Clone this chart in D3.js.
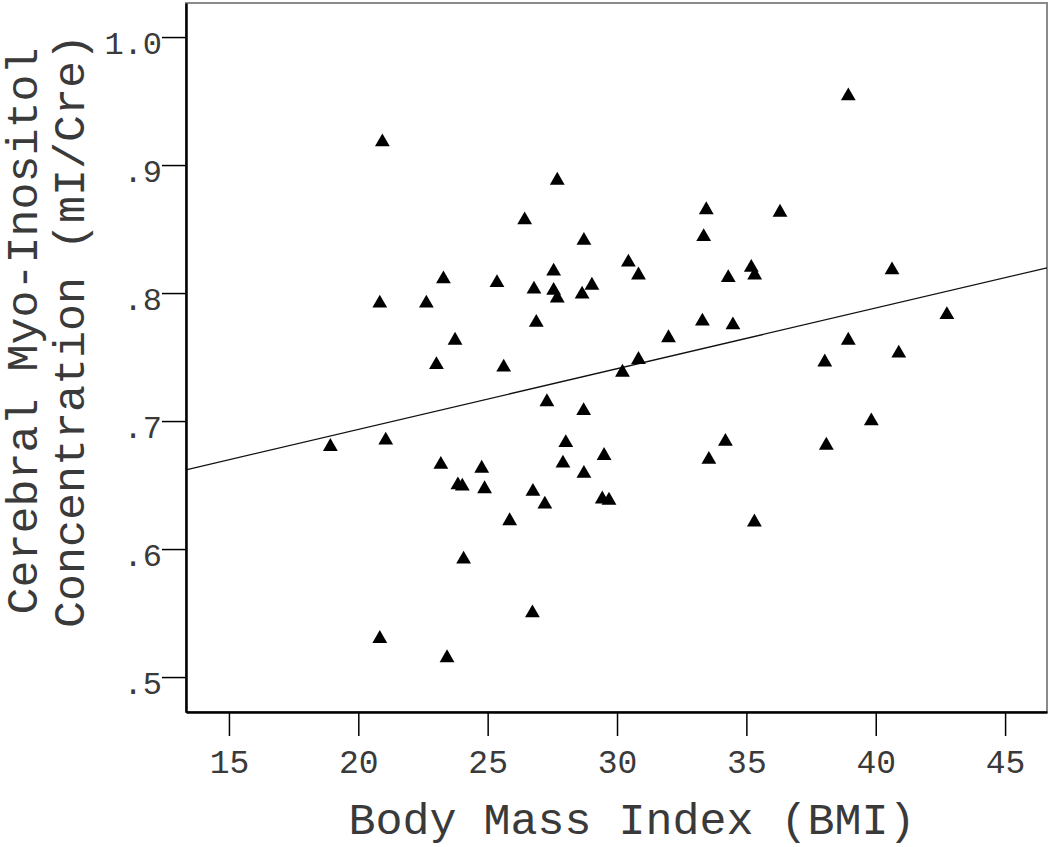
<!DOCTYPE html>
<html>
<head>
<meta charset="utf-8">
<script src="https://cdn.jsdelivr.net/npm/d3@7"></script>
<style>
  body { margin: 0; background: #fff; }
  .tick-label { font-family: "Liberation Mono", "Courier New", monospace; fill: #3a3a3a; }
  .axis-title { font-family: "Liberation Mono", "Courier New", monospace; fill: #3a3a3a; }
</style>
</head>
<body>
<div id="wrapper"></div>
<script>
// BMI of each subject
const bmi = [
  20.93, 27.69, 26.43, 28.72, 27.55, 23.29, 25.36, 26.79, 27.55, 27.69,
  29.03, 28.65, 20.83, 22.63, 26.88, 23.74, 23.02, 25.62, 27.29, 28.71,
  18.92, 21.06, 28.02, 29.50, 23.19, 24.77, 27.91, 28.72, 23.85, 24.02,
  24.88, 26.75, 27.21, 29.43, 29.69, 25.85, 24.07, 26.73, 20.83, 23.43,
  38.94, 33.45, 36.30, 33.35, 30.44, 30.83, 34.30, 35.19, 35.32, 40.63,
  33.30, 34.48, 31.99, 42.75, 38.94, 40.89, 30.83, 30.21, 38.03, 39.83,
  34.19, 38.09, 33.55, 35.31
]
// mI/Cre ratio of each subject
const miCre = [
  0.918, 0.888, 0.857, 0.841, 0.817, 0.811, 0.808, 0.803, 0.802, 0.796,
  0.806, 0.799, 0.792, 0.792, 0.777, 0.763, 0.744, 0.742, 0.715, 0.708,
  0.680, 0.685, 0.683, 0.673, 0.666, 0.663, 0.667, 0.659, 0.650, 0.649,
  0.647, 0.645, 0.635, 0.639, 0.638, 0.622, 0.592, 0.550, 0.530, 0.515,
  0.954, 0.865, 0.863, 0.844, 0.824, 0.814, 0.812, 0.820, 0.814, 0.818,
  0.778, 0.775, 0.765, 0.783, 0.763, 0.753, 0.748, 0.738, 0.746, 0.700,
  0.684, 0.681, 0.670, 0.621
]
// linear fit: intercept, slope
const fitCoef = [0.5987, 0.00474]

const xTicks = [15, 20, 25, 30, 35, 40, 45]
const yTicks = [0.5, 0.6, 0.7, 0.8, 0.9, 1.0]
const yTickLabels = [".5", ".6", ".7", ".8", ".9", "1.0"]

const xTitle = "Body Mass Index (BMI)"
const yTitleLines = ["Cerebral Myo-Inositol", "Concentration (mI/Cre)"]

let dimensions = {
  width: 1050,
  height: 847,
  margin: { top: 3, right: 3, bottom: 135, left: 186 },
}
dimensions.boundedWidth = dimensions.width - dimensions.margin.left - dimensions.margin.right
dimensions.boundedHeight = dimensions.height - dimensions.margin.top - dimensions.margin.bottom

const xScale = d3.scaleLinear()
  .domain([13.34, 46.62])
  .range([0, dimensions.boundedWidth])

const yScale = d3.scaleLinear()
  .domain([0.4727, 1.0266])
  .range([dimensions.boundedHeight, 0])

const wrapper = d3.select("#wrapper")
  .append("svg")
  .attr("width", dimensions.width)
  .attr("height", dimensions.height)

const bounds = wrapper.append("g")
  .attr("transform", `translate(${dimensions.margin.left},${dimensions.margin.top})`)

// frame (top/right lighter)
bounds.append("rect")
  .attr("width", dimensions.boundedWidth)
  .attr("height", dimensions.boundedHeight)
  .attr("fill", "none")
  .attr("stroke", "#8a8a8a")
  .attr("stroke-width", 2)

// fit line
const [x0, x1] = xScale.domain()
bounds.append("line")
  .attr("x1", xScale(x0))
  .attr("y1", yScale(fitCoef[0] + fitCoef[1] * x0))
  .attr("x2", xScale(x1))
  .attr("y2", yScale(fitCoef[0] + fitCoef[1] * x1))
  .attr("stroke", "#111")
  .attr("stroke-width", 1.3)

// points
const triangle = d3.symbol().type(d3.symbolTriangle).size(95)
bounds.selectAll(".pt")
  .data(d3.range(bmi.length))
  .enter().append("path")
  .attr("class", "pt")
  .attr("d", triangle)
  .attr("transform", i => `translate(${xScale(bmi[i])},${yScale(miCre[i])})`)
  .attr("fill", "#000")

// axes
const xAxis = d3.axisBottom(xScale)
  .tickValues(xTicks)
  .tickSize(24)
  .tickPadding(14)
  .tickSizeOuter(0)
const xAxisGroup = bounds.append("g")
  .attr("transform", `translate(0,${dimensions.boundedHeight})`)
  .call(xAxis)
xAxisGroup.select(".domain").attr("stroke", "#000").attr("stroke-width", 2.5)
xAxisGroup.selectAll(".tick line").attr("stroke", "#000").attr("stroke-width", 1.5)
xAxisGroup.selectAll(".tick text")
  .attr("class", "tick-label")
  .style("font-size", "33px")

const yAxis = d3.axisLeft(yScale)
  .tickValues(yTicks)
  .tickFormat((d, i) => yTickLabels[i])
  .tickSize(24)
  .tickPadding(0)
  .tickSizeOuter(0)
const yAxisGroup = bounds.append("g").call(yAxis)
yAxisGroup.select(".domain").attr("stroke", "#000").attr("stroke-width", 2.5)
yAxisGroup.selectAll(".tick line").attr("stroke", "#000").attr("stroke-width", 1.5)
yAxisGroup.selectAll(".tick text")
  .attr("class", "tick-label")
  .attr("dy", "0.5em")
  .style("font-size", "32px")

// titles
wrapper.append("text")
  .attr("class", "axis-title")
  .attr("x", 632)
  .attr("y", 834)
  .attr("text-anchor", "middle")
  .style("font-size", "45px")
  .text(xTitle)

const yTitle = wrapper.append("text")
  .attr("class", "axis-title")
  .attr("transform", `translate(0,331) rotate(-90)`)
  .attr("text-anchor", "middle")
  .style("font-size", "45px")
yTitle.selectAll("tspan")
  .data(yTitleLines)
  .enter().append("tspan")
  .attr("x", 0)
  .attr("y", (d, i) => 37 + i * 47)
  .text(d => d)
</script>
</body>
</html>
